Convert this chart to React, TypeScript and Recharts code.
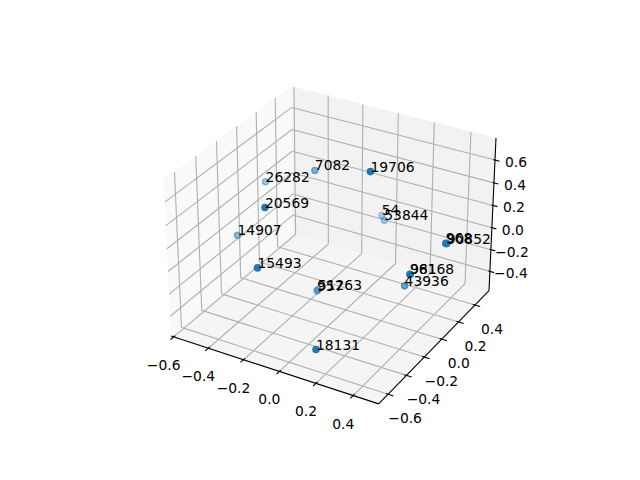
import { Scatter, ScatterChart, XAxis, YAxis } from "recharts";

const pointLabels = ["7082", "19706", "26282", "20569", "54", "53844", "14907", "15493", "957", "51263", "18131", "43936", "981", "96168", "968", "90852"];
const xValues = [-0.289, 0.135, -0.54, -0.256, -0.042, -0.001, -0.555, -0.216, -0.192, -0.141, 0.12, 0.283, 0.417, 0.36, 0.5, 0.495];
const yValues = [0.217, -0.007, 0.151, -0.36, 0.488, 0.434, -0.122, -0.516, 0.052, -0.035, -0.548, 0.092, -0.133, -0.012, 0.09, 0.112];
const zValues = [0.397, 0.715, 0.233, 0.478, -0.086, -0.075, -0.069, 0.085, -0.54, -0.436, -0.445, -0.291, 0.044, -0.072, 0.191, 0.171];

const xTicks = [-0.6, -0.4, -0.2, 0, 0.2, 0.4];
const yTicks = [-0.6, -0.4, -0.2, 0, 0.2, 0.4];
const zTicks = [-0.4, -0.2, 0, 0.2, 0.4, 0.6];

const xLim = [-0.615, 0.535];
const yLim = [-0.7, 0.575];
const zLim = [-0.58, 0.79];

// matplotlib's default 3d camera
const elev = (30 * Math.PI) / 180;
const azim = (-60 * Math.PI) / 180;
const dist = 10;
const boxScale = (1.8294640721620434 * 25) / 24 / Math.sqrt(41);
const box = [4 * boxScale, 4 * boxScale, 3 * boxScale];
const w = [Math.cos(elev) * Math.cos(azim), Math.cos(elev) * Math.sin(azim), Math.sin(elev)];
const eye = [box[0] / 2 + dist * w[0], box[1] / 2 + dist * w[1], box[2] / 2 + dist * w[2]];
const uLen = Math.hypot(w[0], w[1]);
const u = [-w[1] / uLen, w[0] / uLen, 0];
const v = [w[1] * u[2] - w[2] * u[1], w[2] * u[0] - w[0] * u[2], w[0] * u[1] - w[1] * u[0]];

function project(x: number, y: number, z: number) {
  const p = [
    ((x - xLim[0]) / (xLim[1] - xLim[0])) * box[0] - eye[0],
    ((y - yLim[0]) / (yLim[1] - yLim[0])) * box[1] - eye[1],
    ((z - zLim[0]) / (zLim[1] - zLim[0])) * box[2] - eye[2],
  ];
  const depth = -(w[0] * p[0] + w[1] * p[1] + w[2] * p[2]);
  return {
    tx: (u[0] * p[0] + u[1] * p[1] + u[2] * p[2]) / depth,
    ty: (v[0] * p[0] + v[1] * p[1] + v[2] * p[2]) / depth,
    depth,
  };
}

const [x0, x1] = xLim;
const [y0, y1] = yLim;
const [z0, z1] = zLim;

const panes = [
  { fill: "#f9f9f9", corners: [project(x0, y0, z0), project(x0, y1, z0), project(x0, y1, z1), project(x0, y0, z1)] },
  { fill: "#f2f2f2", corners: [project(x0, y1, z0), project(x1, y1, z0), project(x1, y1, z1), project(x0, y1, z1)] },
  { fill: "#f5f5f5", corners: [project(x0, y0, z0), project(x1, y0, z0), project(x1, y1, z0), project(x0, y1, z0)] },
];

const gridLines = [
  ...xTicks.flatMap((t) => [
    [project(t, y0, z0), project(t, y1, z0)],
    [project(t, y1, z0), project(t, y1, z1)],
  ]),
  ...yTicks.flatMap((t) => [
    [project(x0, t, z0), project(x1, t, z0)],
    [project(x0, t, z0), project(x0, t, z1)],
  ]),
  ...zTicks.flatMap((t) => [
    [project(x0, y0, t), project(x0, y1, t)],
    [project(x0, y1, t), project(x1, y1, t)],
  ]),
];

const axisLines = [
  [project(x0, y0, z0), project(x1, y0, z0)],
  [project(x1, y0, z0), project(x1, y1, z0)],
  [project(x1, y1, z0), project(x1, y1, z1)],
  ...xTicks.map((t) => [project(t, y0 + 0.015, z0), project(t, y0 - 0.03, z0)]),
  ...yTicks.map((t) => [project(x1 - 0.012, t, z0), project(x1 + 0.028, t, z0)]),
  ...zTicks.map((t) => [project(x1 - 0.008, y1, t), project(x1 + 0.024, y1, t)]),
];

const minus = (t: number) => t.toFixed(1).replace("-", "\u2212");
const xTickLabels = xTicks.map((t) => ({ ...project(t, y0, z0), label: minus(t) }));
const yTickLabels = yTicks.map((t) => ({ ...project(x1, t, z0), label: minus(t) }));
const zTickLabels = zTicks.map((t) => ({ ...project(x1, y1, t), label: minus(t) }));

const rawPoints = pointLabels.map((label, i) => ({ ...project(xValues[i], yValues[i], zValues[i]), label }));
const depths = rawPoints.map((p) => p.depth);
const nearest = Math.min(...depths);
const farthest = Math.max(...depths);
const points = rawPoints
  .map((p) => ({ ...p, alpha: 1 - (0.7 * (p.depth - nearest)) / (farthest - nearest) }))
  .sort((a, b) => b.depth - a.depth);

const NoDot = () => <g />;

const Dot = (props: any) => (
  <circle
    cx={props.cx}
    cy={props.cy}
    r={3.1}
    fill="#1f77b4"
    fillOpacity={props.payload.alpha}
    stroke="#1f77b4"
    strokeOpacity={props.payload.alpha}
    strokeWidth={1.39}
  />
);

const tickText = (dx: number, dy: number) => (props: any) => (
  <text x={props.cx + dx} y={props.cy + dy} textAnchor="middle" dominantBaseline="central" fontSize={13.89} fill="#000">
    {props.payload.label}
  </text>
);

const PointText = (props: any) => (
  <text x={props.cx} y={props.cy} fontSize={13.89} fill="#000">
    {props.payload.label}
  </text>
);

const Pane = (fill: string) => (props: any) => (
  <polygon points={props.points.map((p: any) => `${p.x},${p.y}`).join(" ")} fill={fill} stroke="none" />
);

export default function App() {
  return (
    <div style={{ position: "absolute", left: 0, top: 0, width: 640, height: 480, background: "#fff", fontFamily: "DejaVu Sans" }}>
      <ScatterChart width={640} height={480} margin={{ left: 143.2, top: 57.6, right: 127.2, bottom: 52.8 }}>
        <XAxis type="number" dataKey="tx" domain={[-0.095, 0.09]} hide />
        <YAxis type="number" dataKey="ty" domain={[-0.095, 0.09]} hide />
        {panes.map((pane) => (
          <Scatter key={pane.fill} data={pane.corners} line={Pane(pane.fill)} shape={NoDot} isAnimationActive={false} />
        ))}
        {gridLines.map((seg, i) => (
          <Scatter key={`grid${i}`} data={seg} line={{ stroke: "#b0b0b0", strokeWidth: 1.11 }} shape={NoDot} isAnimationActive={false} />
        ))}
        {axisLines.map((seg, i) => (
          <Scatter key={`axis${i}`} data={seg} line={{ stroke: "#000", strokeWidth: 1.11 }} shape={NoDot} isAnimationActive={false} />
        ))}
        <Scatter data={points} shape={Dot} isAnimationActive={false} />
        <Scatter data={points} shape={PointText} isAnimationActive={false} />
        <Scatter data={xTickLabels} shape={tickText(-10, 28)} isAnimationActive={false} />
        <Scatter data={yTickLabels} shape={tickText(17, 24)} isAnimationActive={false} />
        <Scatter data={zTickLabels} shape={tickText(21, 2)} isAnimationActive={false} />
      </ScatterChart>
    </div>
  );
}
